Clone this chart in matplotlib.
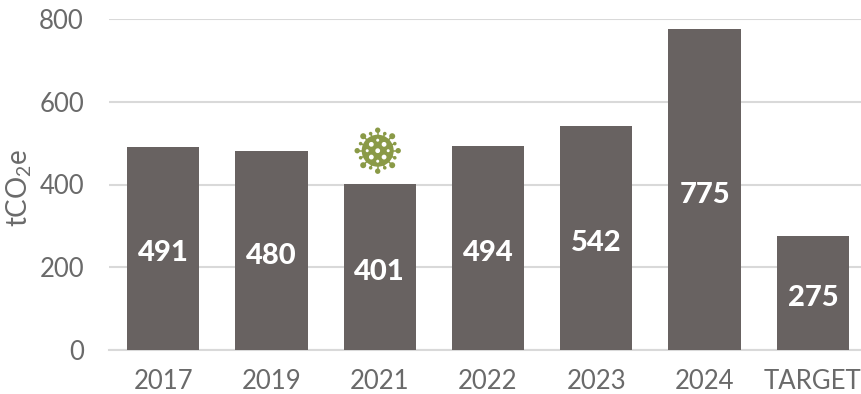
import numpy as np
import matplotlib
matplotlib.use("Agg")
import matplotlib.pyplot as plt
from matplotlib.patches import Circle

categories = ["2017", "2019", "2021", "2022", "2023", "2024", "TARGET"]
emissions = [491, 480, 401, 494, 542, 775, 275]
y_ticks = [0, 200, 400, 600, 800]

BAR_COLOR = "#686261"
TEXT_COLOR = "#6a6a6a"
GRID_COLOR = "#d9d9d9"
VIRUS_COLOR = "#8a9a47"

W, H = 861, 394


def draw_virus(fig, cx, cy, size):
    """Small virus icon drawn in its own axes, centred on pixel (cx, cy)."""
    ax = fig.add_axes([(cx - size / 2) / W, 1 - (cy + size / 2) / H, size / W, size / H])
    ax.set_xlim(-size / 2, size / 2)
    ax.set_ylim(-size / 2, size / 2)
    ax.set_aspect("equal")
    ax.axis("off")

    ax.add_patch(Circle((0, 0), 16, color=VIRUS_COLOR, lw=0))
    # long and short spikes alternate around the body
    for i, ang in enumerate(np.deg2rad(np.arange(0, 360, 22.5))):
        long_spike = i % 2 == 0
        r = 20.5 if long_spike else 18.5
        knob = 2.7 if long_spike and i % 4 == 0 else (3.0 if long_spike else 1.8)
        ax.plot([0, r * np.cos(ang)], [0, r * np.sin(ang)], color=VIRUS_COLOR, lw=1.1, zorder=1,
                solid_capstyle="butt")
        ax.add_patch(Circle((r * np.cos(ang), r * np.sin(ang)), knob, color=VIRUS_COLOR, lw=0))

    # holes in the body
    ax.add_patch(Circle((0, 0), 2.4, color="white", lw=0, zorder=3))
    for ang in np.deg2rad(np.arange(45, 360, 90)):
        ax.add_patch(Circle((9 * np.cos(ang), 9 * np.sin(ang)), 2.4, color="white", lw=0, zorder=3))
    for ang in np.deg2rad(np.arange(0, 360, 90)):
        ax.add_patch(Circle((10.5 * np.cos(ang), 10.5 * np.sin(ang)), 1.5, color="white", lw=0, zorder=3))


def main() -> None:
    plt.rcParams["font.family"] = ["Lato", "DejaVu Sans"]
    plt.rcParams["mathtext.fontset"] = "custom"
    plt.rcParams["mathtext.rm"] = "Lato"
    plt.rcParams["mathtext.default"] = "rm"

    fig = plt.figure(figsize=(W / 100, H / 100), dpi=100)
    # the last category runs slightly past the right edge of the figure
    ax = fig.add_axes([109 / W, 1 - 350 / H, 758 / W, 331 / H])

    x = np.arange(len(categories))
    bars = ax.bar(x, emissions, width=0.667, color=BAR_COLOR, zorder=2)

    ax.set_xlim(-0.5, len(categories) - 0.5)
    ax.set_ylim(0, 800)
    ax.set_yticks(y_ticks)
    ax.set_xticks(x, categories)
    ax.tick_params(axis="both", length=0, labelsize=18.5, labelcolor=TEXT_COLOR)
    ax.tick_params(axis="x", pad=13.5)
    ax.tick_params(axis="y", pad=18)
    for label in ax.get_xticklabels():
        label.set_clip_on(False)

    ax.grid(axis="y", color=GRID_COLOR, lw=1.5, zorder=0)
    ax.set_axisbelow(True)
    for name in ["top", "right", "left"]:
        ax.spines[name].set_visible(False)
    ax.spines["bottom"].set_color(GRID_COLOR)
    ax.spines["bottom"].set_linewidth(1.5)
    ax.spines["bottom"].set_zorder(1)

    # value labels sit just under the middle of each bar
    for bar, v in zip(bars, emissions):
        ax.text(
            bar.get_x() + bar.get_width() / 2,
            v / 2 - 12,
            str(v),
            ha="center",
            va="center",
            fontsize=21,
            fontweight=900,
            color="white",
            zorder=3,
        )

    fig.text(19 / W, 1 - 188 / H, r"tCO$_2$e", rotation=90, ha="center", va="center",
             fontsize=20, color=TEXT_COLOR)

    draw_virus(fig, 377.7, 150.7, 50)

    fig.savefig("out.png", dpi=100)


if __name__ == "__main__":
    main()
